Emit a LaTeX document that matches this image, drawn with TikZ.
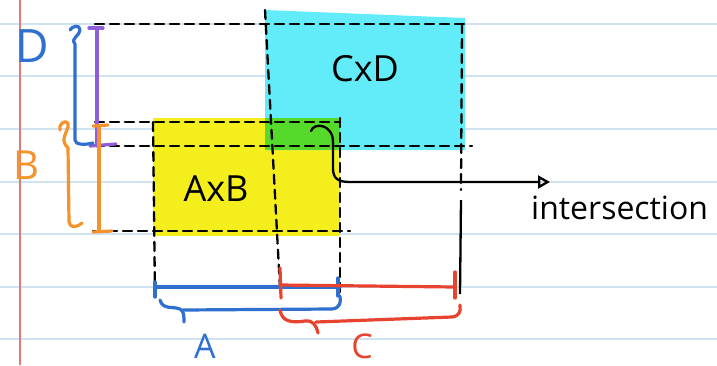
\documentclass[tikz,border=0pt]{standalone}
\usepackage{fontspec}
\setmainfont{Open Sans}
\usetikzlibrary{arrows.meta}
\definecolor{ruleblue}{HTML}{CFE3F2}
\definecolor{marginred}{HTML}{E07A78}
\definecolor{hlyellow}{HTML}{F4EE1C}
\definecolor{hlcyan}{HTML}{62ECFA}
\definecolor{hlgreen}{HTML}{55D92A}
\definecolor{penblue}{HTML}{2F6FD0}
\definecolor{penorange}{HTML}{F5922A}
\definecolor{penpurple}{HTML}{8E5DD8}
\definecolor{penred}{HTML}{E8432E}
\begin{document}
\begin{tikzpicture}[x=1pt,y=-1pt,
  ruled/.style={ruleblue, line width=1.6pt},
  dsh/.style={black, line width=2.3pt, dash pattern=on 9pt off 6pt, line cap=round},
  pen/.style={line width=3.2pt, line cap=round, line join=round},
  lbl/.style={inner sep=0pt, font=\fontsize{36}{40}\selectfont},
  note/.style={inner sep=0pt, font=\fontsize{32}{36}\selectfont}]
\useasboundingbox (0,0) rectangle (717,365);
\fill[white] (0,0) rectangle (717,365);
% ruled paper
\foreach \yy in {24,76,129,182,234,287,339} \draw[ruled] (0,\yy) -- (717,\yy);
\draw[marginred, line width=1.8pt] (20,0) -- (20,365);
% highlights
\fill[hlyellow] (153,118) rectangle (340,236);
\fill[hlcyan] (265,10) -- (465,18) -- (465,150) -- (265,150) -- cycle;
\fill[hlgreen] (265,118) rectangle (340,150);
% dashed guides
\draw[dsh] (95,24) -- (465,24);
\draw[dsh] (95,122) -- (340,122);
\draw[dsh] (95,146) -- (472,146);
\draw[dsh] (93,231) -- (350,231);
\draw[dsh] (153,122) -- (155,297);
\draw[dsh] (265,10) -- (280,288);
\draw[dsh] (340,118) -- (340,295);
\draw[dsh] (462,24) -- (461,190);
\draw[black, line width=2.3pt] (461,200) -- (460,294);
% left: D and B measures
\draw[pen, penpurple] (97,28) -- (97,146);
\draw[pen, penpurple] (89,28) -- (103,28);
\draw[pen, penpurple] (90,146) -- (116,144);
\draw[pen, penblue] (70,30) .. controls (72,26) and (80,24) .. (80,30) .. controls (80,36) and (70,38) .. (75,44) -- (75,140) .. controls (75,145) and (85,145) .. (93,143);
\draw[pen, penorange] (99,126) -- (99,231);
\draw[pen, penorange] (93,126) -- (108,125);
\draw[pen, penorange] (93,232) -- (112,231);
\draw[pen, penorange] (60,130) .. controls (58,122) and (70,118) .. (68,127) .. controls (66,134) and (60,140) .. (68,148) -- (69,222) .. controls (70,228) and (76,228) .. (82,223);
\node[lbl, penblue, font=\fontsize{46}{50}\selectfont] (labD) at (32,46) {D};
\node[lbl, penorange, font=\fontsize{40}{44}\selectfont] (labB) at (26,165) {B};
% bottom: A and C measures
\draw[pen, penblue] (155,287) -- (340,287);
\draw[pen, penblue] (155,282) -- (155,297);
\draw[pen, penblue] (338,278) -- (338,296);
\draw[pen, penblue] (160,300) .. controls (163,310) and (172,306) .. (180,309) .. controls (184,311) and (184,316) .. (184,322);
\draw[pen, penblue] (183,310) -- (332,309) .. controls (340,308) and (341,303) .. (340,296);
\draw[pen, penred] (280,285) -- (455,287);
\draw[pen, penred] (280,268) -- (281,298);
\draw[pen, penred] (455,272) -- (455,298);
\draw[pen, penred] (280,310) .. controls (282,322) and (292,323) .. (305,321) .. controls (313,320) and (316,325) .. (318,333);
\draw[pen, penred] (316,322) -- (452,317) .. controls (459,316) and (461,312) .. (460,305);
\node[lbl, penblue, font=\fontsize{34}{38}\selectfont] (labA) at (205,346) {A};
\node[lbl, penred, font=\fontsize{34}{38}\selectfont] (labC) at (362,346) {C};
% rectangle labels
\node[lbl] (axb) at (216,189) {AxB};
\node[lbl] (cxd) at (365,69) {CxD};
% intersection pointer
\node[note, anchor=west] (inter) at (531,208) {intersection};
\coordinate (curl) at (311,131);
\coordinate (tip) at (550,182);
\draw[black, line width=2.3pt, line cap=round, -{Triangle[open, length=12pt, width=13pt]}]
  (curl) .. controls (314,122) and (333,124) .. (333,142) -- (333,168)
  .. controls (333,178) and (337,182) .. (350,182) -- (tip);
\end{tikzpicture}
\end{document}
